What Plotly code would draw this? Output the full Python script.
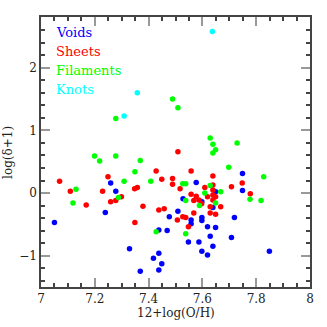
import plotly.graph_objects as go

voids_x = [7.050, 7.259, 7.278, 7.239, 7.329, 7.369, 7.418, 7.438, 7.438, 7.449,
           7.438, 7.469, 7.477, 7.509, 7.528, 7.558, 7.558, 7.548, 7.577, 7.587,
           7.598, 7.598, 7.598, 7.598, 7.619, 7.619, 7.629, 7.639, 7.639, 7.649,
           7.649, 7.719, 7.708, 7.749, 7.749, 7.849]
voids_y = [-0.47, 0.16, 0.03, -0.31, -0.89, -1.25, -1.04, -0.96, -1.23, -1.13,
           -0.59, -0.60, -0.38, -0.29, -0.09, -0.43, -0.49, -0.78, 0.17, -0.78,
           -0.14, -0.39, -0.44, -0.93, -0.54, -0.99, -0.69, -0.23, -0.85, 0.02,
           -0.55, -0.39, -0.71, 0.31, 0.04, -0.93]

sheets_x = [7.509, 7.069, 7.109, 7.168, 7.229, 7.249, 7.259, 7.278, 7.299, 7.348,
            7.358, 7.379, 7.349, 7.428, 7.449, 7.438, 7.458, 7.489, 7.489, 7.517,
            7.507, 7.527, 7.538, 7.548, 7.558, 7.558, 7.568, 7.577, 7.568, 7.587,
            7.597, 7.609, 7.619, 7.629, 7.629, 7.639, 7.639, 7.639, 7.639, 7.649,
            7.649, 7.668, 7.708, 7.748, 7.778, 7.639]
sheets_y = [0.66, 0.19, 0.03, -0.19, 0.03, 0.26, -0.14, -0.12, -0.06, 0.07,
            0.09, -0.21, -0.47, 0.35, 0.22, -0.27, -0.25, 0.23, 0.14, 0.07,
            -0.43, -0.38, -0.39, -0.54, 0.35, -0.02, -0.32, -0.05, -0.12, -0.11,
            -0.17, 0.09, -0.06, -0.22, -0.32, 0.27, 0.13, -0.03, -0.11, -0.06,
            -0.34, -0.22, 0.10, 0.16, -0.01, 0.05]

filaments_x = [7.489, 7.509, 7.278, 7.629, 7.639, 7.729, 7.649, 7.639, 7.199, 7.278,
               7.218, 7.369, 7.698, 7.349, 7.828, 7.408, 7.309, 7.527, 7.538, 7.629,
               7.130, 7.609, 7.668, 7.119, 7.288, 7.538, 7.649, 7.777, 7.818, 7.589,
               7.428, 7.538]
filaments_y = [1.50, 1.36, 1.19, 0.88, 0.78, 0.80, 0.69, 0.64, 0.59, 0.59,
               0.51, 0.52, 0.41, 0.34, 0.26, 0.19, 0.19, 0.15, 0.15, 0.12,
               0.06, 0.00, 0.02, -0.16, -0.07, -0.12, -0.16, -0.10, -0.12, -0.20,
               -0.62, -0.65]

knots_x = [7.637, 7.358, 7.309]
knots_y = [2.58, 1.60, 1.23]

groups = [
    ("Voids", voids_x, voids_y, "#0000ff"),
    ("Sheets", sheets_x, sheets_y, "#ff0000"),
    ("Filaments", filaments_x, filaments_y, "#00ff00"),
    ("Knots", knots_x, knots_y, "#00ffff"),
]

serif = "DejaVu Serif"
text_color = "#222"

fig = go.Figure()
for name, xs, ys, color in groups:
    fig.add_trace(go.Scatter(x=xs, y=ys, mode="markers", name=name,
                             marker=dict(size=5.5, color=color)))

# colored-text key in the upper left
for i, (name, xs, ys, color) in enumerate(groups):
    fig.add_annotation(text=name, xref="paper", yref="paper",
                       x=0.048, y=0.943 - i * 0.07, xanchor="left", yanchor="middle",
                       showarrow=False, font=dict(family=serif, size=13, color=color))

# axis titles placed by hand
fig.add_annotation(text="12+log(O/H)", xref="paper", yref="paper", x=0.5, y=-0.097,
                   xanchor="center", yanchor="middle", showarrow=False,
                   font=dict(family=serif, size=12, color=text_color))
fig.add_annotation(text="log(δ+1)", xref="paper", yref="paper", x=-0.123, y=0.5,
                   xanchor="center", yanchor="middle", textangle=-90, showarrow=False,
                   font=dict(family=serif, size=12, color=text_color))

axis_common = dict(
    showline=True, linecolor="#444", linewidth=1.5, mirror="ticks",
    ticks="inside", tickcolor="#999", tickwidth=2, ticklen=9,
    showgrid=False, zeroline=False, automargin=False,
    tickfont=dict(family=serif, size=12, color=text_color),
)

fig.update_xaxes(range=[7, 8], dtick=0.2, tick0=7,
                 minor=dict(dtick=0.05, ticks="inside", ticklen=4.5, tickcolor="#444", tickwidth=1.5),
                 **axis_common)
fig.update_yaxes(range=[-1.5, 2.81], dtick=1, tick0=0,
                 minor=dict(dtick=0.2, ticks="inside", ticklen=4.5, tickcolor="#444", tickwidth=1.5),
                 **axis_common)

fig.update_layout(
    width=327, height=327,
    margin=dict(l=41, r=17, t=17, b=40),
    plot_bgcolor="white", paper_bgcolor="white",
    showlegend=False,
)

fig.write_html("out.html", config={"displayModeBar": False},
               post_script="document.body.style.margin='0';")
